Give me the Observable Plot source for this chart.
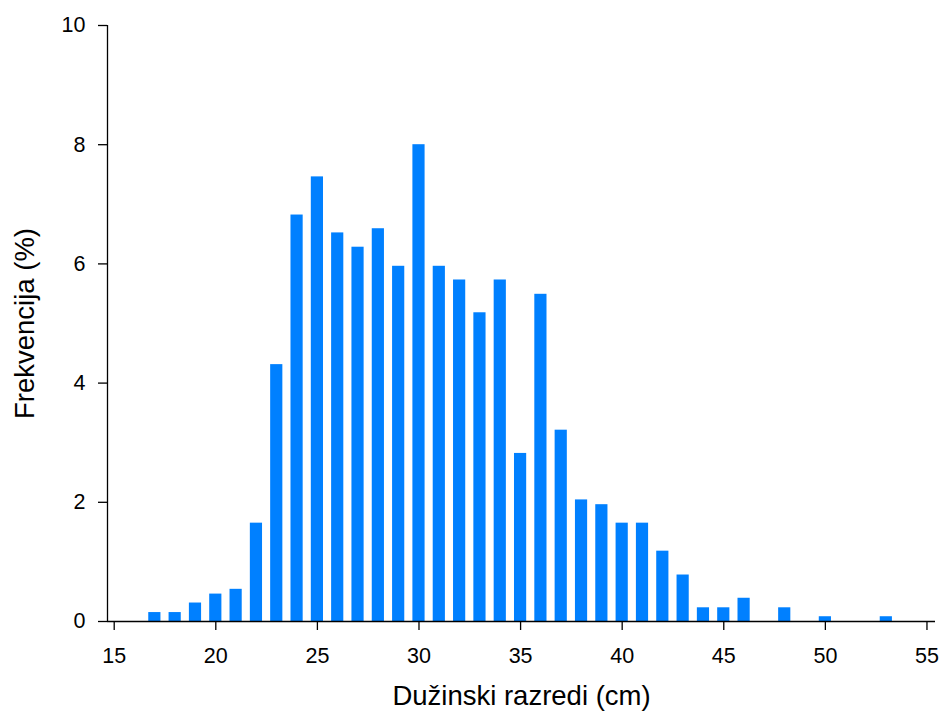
<!DOCTYPE html>
<html>
<head>
<meta charset="utf-8">
<script src="https://cdn.jsdelivr.net/npm/d3@7"></script>
<script src="https://cdn.jsdelivr.net/npm/@observablehq/plot@0.6"></script>
<style>
  html, body { margin: 0; padding: 0; background: #fff; }
</style>
</head>
<body>
<div id="chart"></div>
<script>
// Length classes (cm)
const lengthClasses = [17, 18, 19, 20, 21, 22, 23, 24, 25, 26, 27, 28, 29, 30, 31, 32, 33, 34, 35, 36, 37, 38, 39, 40, 41, 42, 43, 44, 45, 46, 48, 50, 53];
// Frequency (%)
const frequencies = [0.15, 0.15, 0.31, 0.46, 0.54, 1.65, 4.31, 6.82, 7.46, 6.52, 6.28, 6.59, 5.96, 8.0, 5.96, 5.73, 5.18, 5.73, 2.82, 5.49, 3.21, 2.04, 1.96, 1.65, 1.65, 1.18, 0.78, 0.23, 0.23, 0.39, 0.23, 0.08, 0.08];
const xTicks = [15, 20, 25, 30, 35, 40, 45, 50, 55];
const yTicks = [0, 2, 4, 6, 8, 10];
const xTitle = "Dužinski razredi (cm)";
const yTitle = "Frekvencija (%)";

const data = lengthClasses.map((c, i) => ({cls: c, freq: frequencies[i]}));
const halfWidth = 0.3;
const xMin = 14.67, xMax = 55.42;

const chart = Plot.plot({
  width: 944,
  height: 717,
  marginLeft: 107,
  marginRight: 9,
  marginTop: 25,
  marginBottom: 96,
  style: {fontFamily: "'Liberation Sans', Arial, sans-serif", fontSize: "21px", background: "#fff", color: "#000"},
  x: {domain: [xMin, xMax]},
  y: {domain: [0, 10]},
  marks: [
    Plot.rectY(data, {x1: d => d.cls - halfWidth, x2: d => d.cls + halfWidth, y1: 0, y2: "freq", fill: "#0080ff"}),
    Plot.ruleY([0], {stroke: "#000", strokeWidth: 1.3}),
    Plot.ruleX([xMin], {stroke: "#000", strokeWidth: 1.3}),
    Plot.axisX({ticks: xTicks, tickSize: 9, tickPadding: 17, fontSize: 21.5, tickFormat: d => String(d), label: null, strokeWidth: 1.3}),
    Plot.axisY({ticks: yTicks, tickSize: 9, tickPadding: 13, fontSize: 21.5, tickFormat: d => String(d), label: null, strokeWidth: 1.3}),
    Plot.text([xTitle], {frameAnchor: "bottom", dy: 83, fontSize: 27.5, fill: "#000"}),
    Plot.text([yTitle], {frameAnchor: "left", dx: -82, rotate: -90, textAnchor: "middle", fontSize: 27.5, fill: "#000"})
  ]
});
document.getElementById("chart").appendChild(chart);
</script>
</body>
</html>
